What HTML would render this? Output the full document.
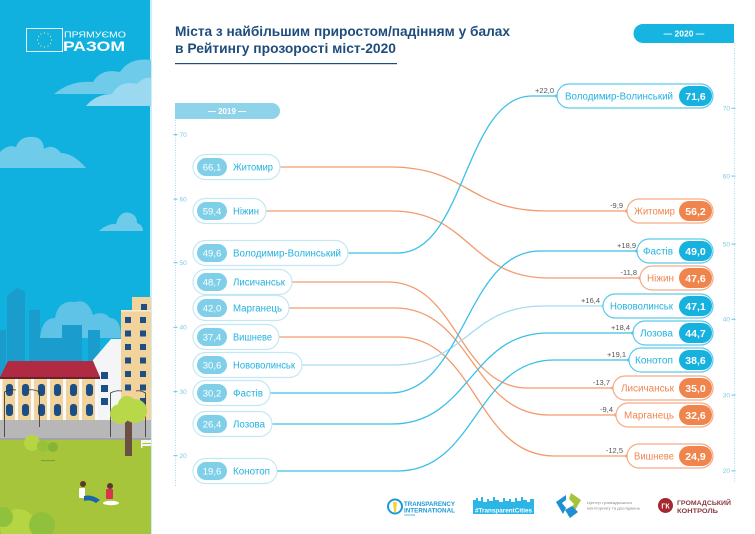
<!DOCTYPE html>
<html><head><meta charset="utf-8"><style>
html,body{margin:0;padding:0;background:#fff;}
svg{display:block;font-family:"Liberation Sans","Noto Sans CJK SC",sans-serif;}
</style></head><body>
<svg width="755" height="534" viewBox="0 0 755 534" xmlns="http://www.w3.org/2000/svg">
<rect width="755" height="534" fill="#fff"/>
<!-- LEFT PANEL -->
<rect x="0" y="0" width="151" height="534" fill="#10b1de"/>
<rect x="150" y="0" width="2" height="534" fill="#cdeef8"/>
<!-- clouds -->
<g fill="#6fcbea">
<path d="M54 94 Q71 80 93 82 Q101 68 120 72 Q130 57 151 60 L151 94 Z"/>
<path d="M86 106 Q96 94 112 94 Q120 80 137 84 Q144 76 151 78 L151 106 Z" fill="#9ad9ef"/>
<path d="M0 168 L0 152 Q8 144 16 147 Q20 136 33 137 Q43 137 44 149 Q53 143 61 153 Q73 153 86 168 Z"/>
<path d="M99 231 Q108 223 116 224 Q120 210 130 213 Q137 215 137 223 Q143 225 143 231 Z"/>
</g>
<!-- logo -->
<rect x="26.5" y="28.5" width="36" height="23" fill="none" stroke="#e8f7fc" stroke-width="1"/>
<g fill="#ffe36a">
<circle cx="44.5" cy="33" r="0.6"/><circle cx="48" cy="34" r="0.6"/><circle cx="50.5" cy="36.5" r="0.6"/><circle cx="51.5" cy="40" r="0.6"/><circle cx="50.5" cy="43.5" r="0.6"/><circle cx="48" cy="46" r="0.6"/><circle cx="44.5" cy="47" r="0.6"/><circle cx="41" cy="46" r="0.6"/><circle cx="38.5" cy="43.5" r="0.6"/><circle cx="37.5" cy="40" r="0.6"/><circle cx="38.5" cy="36.5" r="0.6"/><circle cx="41" cy="34" r="0.6"/>
</g>
<text x="64" y="37.5" font-size="8" fill="#fff" textLength="62" lengthAdjust="spacingAndGlyphs">ПРЯМУЄМО</text>
<text x="63" y="51" font-size="14" font-weight="bold" fill="#fff" textLength="62" lengthAdjust="spacingAndGlyphs">РАЗОМ</text>
<!-- skyline -->
<g fill="#1a9dcc">
<polygon points="7,296 17,288 25,292 25,380 7,380"/>
<rect x="29" y="310" width="11" height="70"/>
<rect x="0" y="330" width="6" height="50"/>
</g>
<path d="M40 338 Q42 318 55 318 Q58 300 75 302 Q88 298 93 315 Q103 310 110 318 Q121 318 121 338 Z" fill="#5ec3e6"/>
<g fill="#1a9dcc">
<rect x="62" y="325" width="20" height="55"/>
<rect x="88" y="330" width="12" height="50"/>
<rect x="40" y="338" width="22" height="42"/>
</g>
<!-- white building -->
<polygon points="93,360 111,339 121,339 121,420 93,420" fill="#f4f5f6"/>
<g fill="#1d4e86"><rect x="101" y="372" width="7" height="7"/><rect x="101" y="385" width="7" height="7"/><rect x="101" y="398" width="7" height="7"/></g>
<!-- beige tower -->
<rect x="132" y="297" width="19" height="15" fill="#f1d39b"/>
<rect x="121" y="311" width="30" height="109" fill="#f1d39b"/>
<rect x="121" y="310" width="30" height="1.5" fill="#fbeccc"/>
<g fill="#1d4e86">
<rect x="141" y="304" width="6" height="6"/>
<rect x="125" y="317" width="6" height="6"/><rect x="140" y="317" width="6" height="6"/>
<rect x="125" y="330.5" width="6" height="6"/><rect x="140" y="330.5" width="6" height="6"/>
<rect x="125" y="344" width="6" height="6"/><rect x="140" y="344" width="6" height="6"/>
<rect x="125" y="357.5" width="6" height="6"/><rect x="140" y="357.5" width="6" height="6"/>
<rect x="125" y="371" width="6" height="6"/><rect x="140" y="371" width="6" height="6"/>
<rect x="125" y="384.5" width="6" height="6"/><rect x="140" y="384.5" width="6" height="6"/>
<rect x="125" y="398" width="6" height="6"/><rect x="140" y="398" width="6" height="6"/>
</g>
<!-- red roof building -->
<polygon points="8,361 93,361 100,377 0,377" fill="#b02a44"/>
<rect x="0" y="377" width="100" height="2" fill="#6b2030"/>
<rect x="0" y="379" width="98" height="41" fill="#f1d49b"/>
<g fill="#fafafa">
<rect x="0" y="379" width="2.5" height="41"/><rect x="15" y="379" width="3" height="41"/><rect x="31" y="379" width="3" height="41"/><rect x="47" y="379" width="3" height="41"/><rect x="63" y="379" width="3" height="41"/><rect x="79" y="379" width="3" height="41"/><rect x="95" y="379" width="3" height="41"/>
</g>
<g fill="#1d4e86">
<rect x="6" y="384" width="7" height="12" rx="3"/><rect x="22" y="384" width="7" height="12" rx="3"/><rect x="38" y="384" width="7" height="12" rx="3"/><rect x="54" y="384" width="7" height="12" rx="3"/><rect x="70" y="384" width="7" height="12" rx="3"/><rect x="86" y="384" width="7" height="12" rx="3"/>
<rect x="6" y="404" width="7" height="12" rx="3"/><rect x="22" y="404" width="7" height="12" rx="3"/><rect x="38" y="404" width="7" height="12" rx="3"/><rect x="54" y="404" width="7" height="12" rx="3"/><rect x="70" y="404" width="7" height="12" rx="3"/><rect x="86" y="404" width="7" height="12" rx="3"/>
</g>
<!-- road & grass -->
<rect x="0" y="420" width="151" height="20" fill="#b7b7b7"/>
<rect x="0" y="438" width="151" height="2" fill="#a3a3a3"/>
<rect x="0" y="440" width="151" height="94" fill="#a7c53a"/>
<rect x="41" y="460" width="14" height="1.2" fill="#7fa42e"/>
<!-- lamps -->
<g stroke="#333" stroke-width="0.8" fill="none">
<path d="M4.5 437 V392 Q10 389 16 390"/><path d="M39.5 427 V392 Q34 389 28 390"/><path d="M110.5 437 V393 Q116 390 122 391"/><path d="M145.5 437 V393 Q140 390 136 391"/>
</g>
<!-- tree -->
<rect x="125" y="412" width="7" height="44" fill="#6b4f42"/>
<circle cx="120" cy="414" r="10" fill="#b8d84a"/>
<circle cx="135" cy="411" r="12" fill="#b8d84a"/>
<circle cx="127" cy="405" r="9" fill="#b8d84a"/>
<rect x="141" y="440" width="10" height="3" fill="#f4f4f4"/><rect x="141" y="444" width="10" height="2" fill="#f4f4f4"/><rect x="141" y="440" width="1.5" height="8" fill="#f4f4f4"/>
<!-- bushes -->
<circle cx="32" cy="443" r="8" fill="#b5d543"/>
<circle cx="43" cy="446" r="6" fill="#98c23c"/>
<circle cx="53" cy="447" r="5" fill="#86b536"/>
<circle cx="18" cy="527" r="18" fill="#b5d543"/>
<circle cx="42" cy="525" r="13" fill="#8fc13d"/>
<circle cx="3" cy="517" r="10" fill="#8fc13d"/>
<!-- people -->
<circle cx="83" cy="484" r="3" fill="#5b3a2a"/>
<rect x="79" y="488" width="6" height="10" rx="1" fill="#fff"/>
<path d="M84 496 Q92 494 100 500 L96 503 Q90 499 84 501 Z" fill="#1a66a8"/>
<circle cx="110" cy="486" r="3" fill="#5b3a2a"/>
<rect x="106" y="489" width="7" height="10" rx="1" fill="#d9334f"/>
<ellipse cx="111" cy="503" rx="8" ry="2.2" fill="#fff"/>
<!-- TITLE -->
<text x="175" y="36" font-size="14" font-weight="bold" fill="#1e4d7c" textLength="335" lengthAdjust="spacingAndGlyphs">Міста з найбільшим приростом/падінням у балах</text>
<text x="175" y="53" font-size="14" font-weight="bold" fill="#1e4d7c" textLength="221" lengthAdjust="spacingAndGlyphs">в Рейтингу прозорості міст-2020</text>
<rect x="175" y="63" width="222" height="1.2" fill="#1e4d7c"/>
<!-- headers -->
<path d="M175 103 H272 A8 8 0 0 1 272 119 H175 Z" fill="#8fd3ea"/>
<text x="227" y="114" font-size="8" font-weight="bold" fill="#fff" text-anchor="middle">— 2019 —</text>
<path d="M734 24 H643 A9.5 9.5 0 0 0 643 43 H734 Z" fill="#16b4e0"/>
<text x="684" y="36.5" font-size="8.5" font-weight="bold" fill="#fff" text-anchor="middle">— 2020 —</text>
<!-- axes -->
<line x1="175.5" y1="120" x2="175.5" y2="486" stroke="#a9dcef" stroke-width="1" stroke-dasharray="1,1.5"/>
<line x1="734.5" y1="43" x2="734.5" y2="482" stroke="#a9dcef" stroke-width="1" stroke-dasharray="1,1.5"/>
<g fill="#7ccbe8" font-size="6.5">
<rect x="173.5" y="134" width="4" height="1.2"/><text x="179.5" y="137">70</text>
<rect x="173.5" y="198.5" width="4" height="1.2"/><text x="179.5" y="201.5">60</text>
<rect x="173.5" y="262" width="4" height="1.2"/><text x="179.5" y="265">50</text>
<rect x="173.5" y="326.7" width="4" height="1.2"/><text x="179.5" y="329.7">40</text>
<rect x="173.5" y="391" width="4" height="1.2"/><text x="179.5" y="394">30</text>
<rect x="173.5" y="455" width="4" height="1.2"/><text x="179.5" y="458">20</text>
</g>
<g fill="#7ccbe8" font-size="6.5" text-anchor="end">
<rect x="731.5" y="107.7" width="4" height="1.2"/><text x="730" y="110.7">70</text>
<rect x="731.5" y="175.5" width="4" height="1.2"/><text x="730" y="178.5">60</text>
<rect x="731.5" y="243.5" width="4" height="1.2"/><text x="730" y="246.5">50</text>
<rect x="731.5" y="318.7" width="4" height="1.2"/><text x="730" y="321.7">40</text>
<rect x="731.5" y="394.5" width="4" height="1.2"/><text x="730" y="397.5">30</text>
<rect x="731.5" y="470.2" width="4" height="1.2"/><text x="730" y="473.2">20</text>
</g>
<!-- CURVES -->
<g fill="none" stroke-width="1.3">
<path d="M280 167 H390 C468 167 468 211 546 211 H627" stroke="#f39b6d"/>
<path d="M266 211 H392 C470 211 470 278 548 278 H640" stroke="#f39b6d"/>
<path d="M348 253 H398 C465 253 465 96 532 96 H557" stroke="#3cbfe7"/>
<path d="M292 282 H388 C458 282 458 388 528 388 H613" stroke="#f39b6d"/>
<path d="M289 308 H395 C472 308 472 415 549 415 H616" stroke="#f39b6d"/>
<path d="M279 337 H398 C476 337 476 456 554 456 H627" stroke="#f39b6d"/>
<path d="M302 365 H393 C468 365 468 306 543 306 H603" stroke="#a6dcf0"/>
<path d="M270 393 H390 C465 393 465 251 540 251 H637" stroke="#3cbfe7"/>
<path d="M272 424 H392 C470 424 470 333 548 333 H633" stroke="#3cbfe7"/>
<path d="M277 471 H398 C476 471 476 360 554 360 H629" stroke="#3cbfe7"/>
</g>
<g>
<circle cx="627" cy="211" r="1.8" fill="#f39b6d"/>
<circle cx="640" cy="278" r="1.8" fill="#f39b6d"/>
<circle cx="557" cy="96" r="1.8" fill="#3cbfe7"/>
<circle cx="613" cy="388" r="1.8" fill="#f39b6d"/>
<circle cx="616" cy="415" r="1.8" fill="#f39b6d"/>
<circle cx="627" cy="456" r="1.8" fill="#f39b6d"/>
<circle cx="603" cy="306" r="1.8" fill="#a6dcf0"/>
<circle cx="637" cy="251" r="1.8" fill="#3cbfe7"/>
<circle cx="633" cy="333" r="1.8" fill="#3cbfe7"/>
<circle cx="629" cy="360" r="1.8" fill="#3cbfe7"/>
</g>
<!-- delta labels -->
<g font-size="7.5" fill="#555" text-anchor="end">
<text x="554" y="93">+22,0</text>
<text x="623" y="208">-9,9</text>
<text x="636" y="248">+18,9</text>
<text x="637" y="275">-11,8</text>
<text x="600" y="303">+16,4</text>
<text x="630" y="330">+18,4</text>
<text x="626" y="357">+19,1</text>
<text x="610" y="385">-13,7</text>
<text x="613" y="412">-9,4</text>
<text x="623" y="453">-12,5</text>
</g>
<!-- LEFT PILLS -->
<g stroke="#c3e8f5" stroke-width="1.2" fill="#fff">
<rect x="193" y="154.5" width="87" height="25" rx="12.5"/>
<rect x="193" y="198.5" width="73" height="25" rx="12.5"/>
<rect x="193" y="240.5" width="155" height="25" rx="12.5"/>
<rect x="193" y="269.5" width="99" height="25" rx="12.5"/>
<rect x="193" y="295.5" width="96" height="25" rx="12.5"/>
<rect x="193" y="324.5" width="86" height="25" rx="12.5"/>
<rect x="193" y="352.5" width="109" height="25" rx="12.5"/>
<rect x="193" y="380.5" width="77" height="25" rx="12.5"/>
<rect x="193" y="411.5" width="79" height="25" rx="12.5"/>
<rect x="193" y="458.5" width="84" height="25" rx="12.5"/>
</g>
<g fill="#80cfe9">
<rect x="197" y="158" width="30" height="18" rx="9"/>
<rect x="197" y="202" width="30" height="18" rx="9"/>
<rect x="197" y="244" width="30" height="18" rx="9"/>
<rect x="197" y="273" width="30" height="18" rx="9"/>
<rect x="197" y="299" width="30" height="18" rx="9"/>
<rect x="197" y="328" width="30" height="18" rx="9"/>
<rect x="197" y="356" width="30" height="18" rx="9"/>
<rect x="197" y="384" width="30" height="18" rx="9"/>
<rect x="197" y="415" width="30" height="18" rx="9"/>
<rect x="197" y="462" width="30" height="18" rx="9"/>
</g>
<g font-size="9.5" fill="#fff" text-anchor="middle">
<text x="212" y="170.5">66,1</text>
<text x="212" y="214.5">59,4</text>
<text x="212" y="256.5">49,6</text>
<text x="212" y="285.5">48,7</text>
<text x="212" y="311.5">42,0</text>
<text x="212" y="340.5">37,4</text>
<text x="212" y="368.5">30,6</text>
<text x="212" y="396.5">30,2</text>
<text x="212" y="427.5">26,4</text>
<text x="212" y="474.5">19,6</text>
</g>
<g font-size="10" fill="#22b2df">
<text x="233" y="170.5" textLength="40" lengthAdjust="spacingAndGlyphs">Житомир</text>
<text x="233" y="214.5" textLength="26" lengthAdjust="spacingAndGlyphs">Ніжин</text>
<text x="233" y="256.5" textLength="108" lengthAdjust="spacingAndGlyphs">Володимир-Волинський</text>
<text x="233" y="285.5" textLength="52" lengthAdjust="spacingAndGlyphs">Лисичанськ</text>
<text x="233" y="311.5" textLength="49" lengthAdjust="spacingAndGlyphs">Марганець</text>
<text x="233" y="340.5" textLength="39" lengthAdjust="spacingAndGlyphs">Вишневе</text>
<text x="233" y="368.5" textLength="62" lengthAdjust="spacingAndGlyphs">Нововолинськ</text>
<text x="233" y="396.5" textLength="30" lengthAdjust="spacingAndGlyphs">Фастів</text>
<text x="233" y="427.5" textLength="32" lengthAdjust="spacingAndGlyphs">Лозова</text>
<text x="233" y="474.5" textLength="37" lengthAdjust="spacingAndGlyphs">Конотоп</text>
</g>
<!-- RIGHT PILLS -->
<g stroke-width="1.2" fill="#fff">
<rect x="557" y="84" width="156" height="24" rx="12" stroke="#5cc9ec"/>
<rect x="627" y="199" width="86" height="24" rx="12" stroke="#f5ab86"/>
<rect x="637" y="239" width="76" height="24" rx="12" stroke="#5cc9ec"/>
<rect x="640" y="266" width="73" height="24" rx="12" stroke="#f5ab86"/>
<rect x="603" y="294" width="110" height="24" rx="12" stroke="#5cc9ec"/>
<rect x="633" y="321" width="80" height="24" rx="12" stroke="#5cc9ec"/>
<rect x="629" y="348" width="84" height="24" rx="12" stroke="#5cc9ec"/>
<rect x="613" y="376" width="100" height="24" rx="12" stroke="#f5ab86"/>
<rect x="616" y="403" width="97" height="24" rx="12" stroke="#f5ab86"/>
<rect x="627" y="444" width="86" height="24" rx="12" stroke="#f5ab86"/>
</g>
<g>
<rect x="679" y="86" width="33" height="20" rx="10" fill="#16b1de"/>
<rect x="679" y="201" width="33" height="20" rx="10" fill="#f0844d"/>
<rect x="679" y="241" width="33" height="20" rx="10" fill="#16b1de"/>
<rect x="679" y="268" width="33" height="20" rx="10" fill="#f0844d"/>
<rect x="679" y="296" width="33" height="20" rx="10" fill="#16b1de"/>
<rect x="679" y="323" width="33" height="20" rx="10" fill="#16b1de"/>
<rect x="679" y="350" width="33" height="20" rx="10" fill="#16b1de"/>
<rect x="679" y="378" width="33" height="20" rx="10" fill="#f0844d"/>
<rect x="679" y="405" width="33" height="20" rx="10" fill="#f0844d"/>
<rect x="679" y="446" width="33" height="20" rx="10" fill="#f0844d"/>
</g>
<g font-size="10.5" font-weight="bold" fill="#fff" text-anchor="middle">
<text x="695.5" y="99.8">71,6</text>
<text x="695.5" y="214.8">56,2</text>
<text x="695.5" y="254.8">49,0</text>
<text x="695.5" y="281.8">47,6</text>
<text x="695.5" y="309.8">47,1</text>
<text x="695.5" y="336.8">44,7</text>
<text x="695.5" y="363.8">38,6</text>
<text x="695.5" y="391.8">35,0</text>
<text x="695.5" y="418.8">32,6</text>
<text x="695.5" y="459.8">24,9</text>
</g>
<g font-size="10" text-anchor="end">
<text x="673" y="99.5" fill="#22b2df" textLength="108" lengthAdjust="spacingAndGlyphs">Володимир-Волинський</text>
<text x="675" y="214.5" fill="#f0864f" textLength="41" lengthAdjust="spacingAndGlyphs">Житомир</text>
<text x="673" y="254.5" fill="#22b2df" textLength="30" lengthAdjust="spacingAndGlyphs">Фастів</text>
<text x="674" y="281.5" fill="#f0864f" textLength="27" lengthAdjust="spacingAndGlyphs">Ніжин</text>
<text x="673" y="309.5" fill="#22b2df" textLength="63" lengthAdjust="spacingAndGlyphs">Нововолинськ</text>
<text x="673" y="336.5" fill="#22b2df" textLength="33" lengthAdjust="spacingAndGlyphs">Лозова</text>
<text x="673" y="363.5" fill="#22b2df" textLength="38" lengthAdjust="spacingAndGlyphs">Конотоп</text>
<text x="674" y="391.5" fill="#f0864f" textLength="53" lengthAdjust="spacingAndGlyphs">Лисичанськ</text>
<text x="674" y="418.5" fill="#f0864f" textLength="50" lengthAdjust="spacingAndGlyphs">Марганець</text>
<text x="674" y="459.5" fill="#f0864f" textLength="40" lengthAdjust="spacingAndGlyphs">Вишневе</text>
</g>
<!-- LOGOS -->
<circle cx="395" cy="506.5" r="7" fill="none" stroke="#1b9bd7" stroke-width="2"/>
<path d="M393 502 L397 502 L396 512 L394 512 Z" fill="#f6d23c"/>
<text x="404" y="506" font-size="6" font-weight="bold" fill="#1b9bd7" textLength="51" lengthAdjust="spacingAndGlyphs">TRANSPARENCY</text>
<text x="404" y="512.5" font-size="6" font-weight="bold" fill="#1b9bd7" textLength="51" lengthAdjust="spacingAndGlyphs">INTERNATIONAL</text>
<text x="404" y="516" font-size="2.5" fill="#1b9bd7">UKRAINE</text>
<path d="M473 505 V500 H476 V498 H478 V501 H481 V497 H483 V502 H487 V499 H489 V501 H493 V497 H495 V500 H499 V502 H503 V498 H505 V501 H509 V499 H511 V502 H515 V498 H517 V501 H521 V497 H523 V500 H527 V502 H530 V499 H534 V505 Z" fill="#2bb6e7"/>
<rect x="473" y="505" width="61" height="9" fill="#2bb6e7"/>
<text x="475" y="512.3" font-size="6.5" font-weight="bold" fill="#fff" textLength="57" lengthAdjust="spacingAndGlyphs">#TransparentCities</text>
<path d="M556 502 L566 495 L566 500 L562 503 L566 508 L563 514 Z" fill="#1e8fd2"/>
<path d="M571 493 L581 500 L574 512 L568 516 L569 510 L574 504 L569 499 Z" fill="#a7c33a"/>
<path d="M565 510 L572 506 L578 512 L570 518 Z" fill="#1e8fd2"/>
<text x="587" y="504" font-size="4" fill="#888" textLength="45" lengthAdjust="spacingAndGlyphs">Центр громадського</text>
<text x="587" y="509.5" font-size="4" fill="#888" textLength="53" lengthAdjust="spacingAndGlyphs">моніторингу та досліджень</text>
<circle cx="665.5" cy="505.5" r="7.5" fill="#a5282e"/>
<text x="665.5" y="508.5" font-size="7" font-weight="bold" fill="#fff" text-anchor="middle">ГК</text>
<text x="677" y="505" font-size="6.5" font-weight="bold" fill="#8b3a3e" textLength="54" lengthAdjust="spacingAndGlyphs">ГРОМАДСЬКИЙ</text>
<text x="677" y="513" font-size="6.5" font-weight="bold" fill="#8b3a3e" textLength="41" lengthAdjust="spacingAndGlyphs">КОНТРОЛЬ</text>
</svg>
</body></html>
